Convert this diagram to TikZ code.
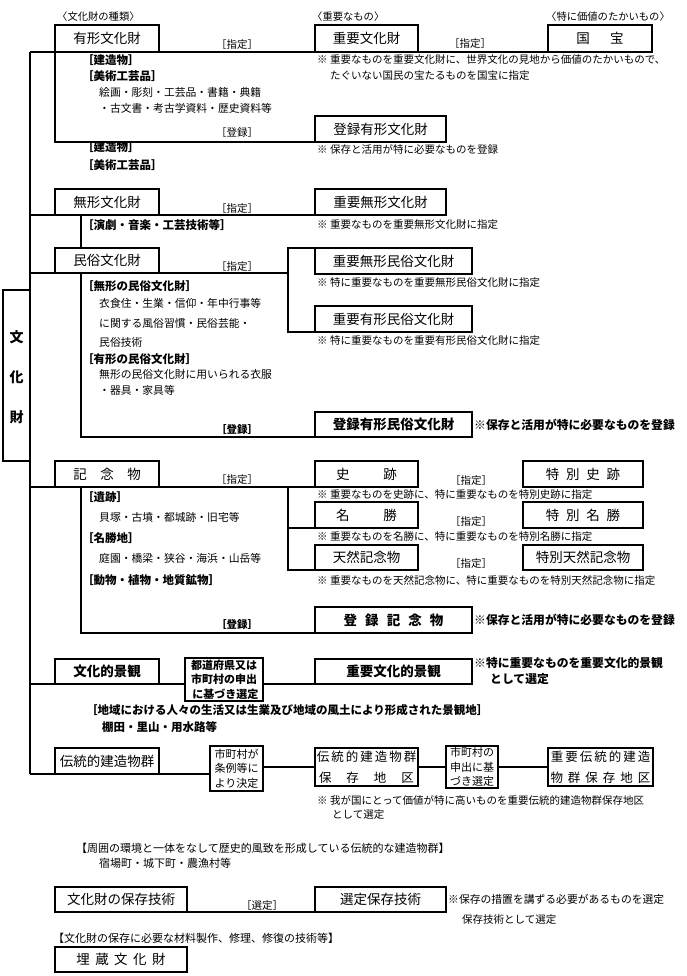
\documentclass[tikz,border=0pt]{standalone}
\usepackage{fontspec}
\setmainfont{Noto Sans CJK JP}
\tikzset{
 ln/.style={line width=1.6pt},
 box/.style={draw,line width=1.6pt,inner sep=0pt,outer sep=0pt,fill=white,align=center,font=\fontsize{13.5}{15}\selectfont},
 bbox/.style={box,font=\fontsize{13.5}{15}\selectfont\bfseries},
 sbox/.style={box,font=\fontsize{11}{14.5}\selectfont},
 txt/.style={anchor=west,inner sep=0pt,font=\fontsize{10.8}{12}\selectfont},
 btxt/.style={anchor=west,inner sep=0pt,font=\fontsize{11.5}{13}\selectfont\bfseries},
 note/.style={anchor=west,inner sep=0pt,font=\fontsize{10.5}{12}\selectfont},
 bnote/.style={anchor=west,inner sep=0pt,font=\fontsize{11.8}{13}\selectfont\bfseries},
 lab/.style={inner sep=0pt,font=\fontsize{10.5}{12}\selectfont},
 blab/.style={inner sep=0pt,font=\fontsize{10.5}{12}\selectfont\bfseries},
}
\newcommand\bx[7]{\node[#2,minimum width={(#5-#3)*1pt},minimum height={(#6-#4)*1pt}] (#1) at ({(#3+#5)/2},{(#4+#6)/2}) {#7};}
\begin{document}
\begin{tikzpicture}[x=1pt,y=-1pt]
\fill[white] (0,0) rectangle (687,976);
\useasboundingbox (0,0) rectangle (687,976);
% headers
\node[txt,font=\fontsize{10.3}{12}\selectfont] (h1) at (57,17) {〈文化財の種類〉};
\node[txt,font=\fontsize{10.3}{12}\selectfont] (h2) at (312,17) {〈重要なもの〉};
\node[txt,font=\fontsize{10.3}{12}\selectfont] (h3) at (546,17) {〈特に価値のたかいもの〉};
% left box
\bx{B0}{bbox}{3}{290}{30}{461}{}
\node[inner sep=0pt,align=center,font=\fontsize{14}{40}\selectfont\bfseries] (B0t) at ([yshift=-2pt]B0.center) {文\\化\\財};
% boxes
\bx{B1}{box}{55}{25}{159}{52}{有形文化財}
\bx{B2}{box}{315}{25}{418}{52}{重要文化財}
\bx{B3}{box}{548}{25}{652}{52}{国\hspace{1.5em}宝}
\bx{B4}{box}{315}{116}{446}{142}{登録有形文化財}
\bx{B5}{box}{55}{189}{159}{215}{無形文化財}
\bx{B6}{box}{315}{189}{446}{215}{重要無形文化財}
\bx{B7}{box}{55}{248}{159}{273}{民俗文化財}
\bx{B8}{box}{315}{248}{472}{274}{重要無形民俗文化財}
\bx{B9}{box}{315}{306}{472}{332}{重要有形民俗文化財}
\bx{B10}{bbox}{315}{412}{472}{437}{登録有形民俗文化財}
\bx{B11}{box}{55}{461}{159}{487}{記　念　物}
\bx{B12}{box}{315}{461}{418}{487}{史\hspace{2.5em}跡}
\bx{B13}{box}{523}{461}{643}{487}{特\hspace{0.5em}別\hspace{0.5em}史\hspace{0.5em}跡}
\bx{B14}{box}{315}{502}{418}{528}{名\hspace{2.5em}勝}
\bx{B15}{box}{523}{502}{643}{528}{特\hspace{0.5em}別\hspace{0.5em}名\hspace{0.5em}勝}
\bx{B16}{box}{315}{545}{418}{570}{天然記念物}
\bx{B17}{box}{523}{545}{643}{570}{特別天然記念物}
\bx{B18}{bbox}{315}{607}{472}{633}{登\hspace{0.6em}録\hspace{0.6em}記\hspace{0.6em}念\hspace{0.6em}物}
\bx{B19}{bbox}{55}{659}{159}{684}{文化的景観}
\bx{B20}{sbox}{185}{658}{263}{701}{\bfseries 都道府県又は\\\bfseries 市町村の申出\\\bfseries \ に基づき選定}
\bx{B21}{bbox}{315}{659}{472}{684}{重要文化的景観}
\bx{B22}{box}{55}{748}{159}{774}{伝統的建造物群}
\bx{B23}{sbox}{210}{746}{263}{791}{市町村が\\条例等に\\より決定}
\bx{B24}{box}{315}{748}{418}{786}{}
\node[inner sep=0pt,font=\fontsize{12.5}{14}\selectfont] (B24a) at (366.5,757) {伝\hspace{2pt}統\hspace{2pt}的\hspace{2pt}建\hspace{2pt}造\hspace{2pt}物\hspace{2pt}群};
\node[inner sep=0pt,font=\fontsize{12.5}{14}\selectfont] (B24b) at (366.5,778) {保\hspace{1.2em}存\hspace{1.2em}地\hspace{1.2em}区};
\bx{B25}{sbox}{446}{746}{498}{788}{市町村の\\申出に基\\づき選定}
\bx{B26}{box}{548}{748}{653}{786}{}
\node[inner sep=0pt,font=\fontsize{12.5}{14}\selectfont] (B26a) at (600.5,757) {重\hspace{2pt}要\hspace{2pt}伝\hspace{2pt}統\hspace{2pt}的\hspace{2pt}建\hspace{2pt}造};
\node[inner sep=0pt,font=\fontsize{12.5}{14}\selectfont] (B26b) at (600.5,778) {物\hspace{0.4em}群\hspace{0.4em}保\hspace{0.4em}存\hspace{0.4em}地\hspace{0.4em}区};
\bx{B27}{box}{55}{887}{187}{912}{文化財の保存技術}
\bx{B28}{box}{315}{887}{446}{912}{選定保存技術}
\bx{B29}{box}{55}{947}{187}{972}{埋\hspace{0.4em}蔵\hspace{0.4em}文\hspace{0.4em}化\hspace{0.4em}財}
% spine and connectors
\coordinate (s1) at (30,52);
\coordinate (s2) at (30,215);
\coordinate (s3) at (30,273);
\coordinate (s4) at (30,487);
\coordinate (s5) at (30,684);
\coordinate (s6) at (30,774);
\draw[ln] (s1) -- (s6);
\draw[ln] (s1) -- (B2.south west);
\draw[ln] (B2.south east) -- (B3.south west);
\draw[ln] (B1.south west) |- (B4.south west);
\draw[ln] (s2) -- (B6.south west);
\coordinate (m1) at (81,215);
\draw[ln] (m1) -- (m1 |- B7.north);
\coordinate (j1) at (288,273);
\draw[ln] (s3) -- (j1);
\draw[ln] (B8.north west) -| (j1) |- (B9.south west);
\coordinate (m2) at (81,273);
\draw[ln] (m2) |- (B10.south west);
\coordinate (j2) at (288,487);
\draw[ln] (s4) -- (B12.south west);
\draw[ln] (j2) |- (B16.south west);
\draw[ln] (j2 |- B14.south) -- (B14.south west);
\coordinate (m3) at (81,487);
\draw[ln] (m3) |- (B18.south west);
\draw[ln] (s5) -- (s5 -| B20.west);
\draw[ln] (B20.east |- B21.south) -- (B21.south west);
\draw[ln] (s6) -- (s6 -| B23.west);
\draw[ln] (B23.east |- B24.west) -- (B24.west);
\draw[ln] (B24.east) -- (B24.east -| B25.west);
\draw[ln] (B25.east |- B26.west) -- (B26.west);
\draw[ln] (B27.south east) -- (B28.south west);
% connector labels
\node[lab] (l1) at (237,45) {［指定］};
\node[lab] (l2) at (470,44) {［指定］};
\node[lab] (l3) at (237,133) {［登録］};
\node[lab] (l4) at (237,209) {［指定］};
\node[lab] (l5) at (237,267) {［指定］};
\node[blab] (l6) at (237,430) {［登録］};
\node[lab] (l7) at (237,480) {［指定］};
\node[lab] (l8) at (471,481) {［指定］};
\node[lab] (l9) at (471,522) {［指定］};
\node[lab] (l10) at (471,564) {［指定］};
\node[blab] (l11) at (237,625) {［登録］};
\node[lab] (l12) at (262,905) {［選定］};
% left texts
\node[btxt] (t1) at (82,60) {［建造物］};
\node[btxt] (t2) at (82,76) {［美術工芸品］};
\node[txt] (t3) at (99,92) {絵画・彫刻・工芸品・書籍・典籍};
\node[txt] (t4) at (99,108) {・古文書・考古学資料・歴史資料等};
\node[btxt] (t5) at (82,147) {［建造物］};
\node[btxt] (t6) at (82,165) {［美術工芸品］};
\node[btxt] (t7) at (82,225) {［演劇・音楽・工芸技術等］};
\node[btxt] (t8) at (82,286) {［無形の民俗文化財］};
\node[txt] (t9) at (99,303) {衣食住・生業・信仰・年中行事等};
\node[txt] (t10) at (99,323) {に関する風俗習慣・民俗芸能・};
\node[txt] (t11) at (99,342) {民俗技術};
\node[btxt] (t12) at (82,359) {［有形の民俗文化財］};
\node[txt] (t13) at (99,374) {無形の民俗文化財に用いられる衣服};
\node[txt] (t14) at (99,390) {・器具・家具等};
\node[btxt] (t15) at (82,497) {［遺跡］};
\node[txt] (t16) at (99,517) {貝塚・古墳・都城跡・旧宅等};
\node[btxt] (t17) at (82,538) {［名勝地］};
\node[txt] (t18) at (99,558) {庭園・橋梁・狭谷・海浜・山岳等};
\node[btxt] (t19) at (82,580) {［動物・植物・地質鉱物］};
\node[btxt] (t20) at (86,710) {［地域における人々の生活又は生業及び地域の風土により形成された景観地］};
\node[btxt] (t21) at (102,727) {棚田・里山・用水路等};
\node[txt,font=\fontsize{11}{12}\selectfont] (t22) at (76,848) {【周囲の環境と一体をなして歴史的風致を形成している伝統的な建造物群】};
\node[txt,font=\fontsize{11}{12}\selectfont] (t23) at (99,863) {宿場町・城下町・農漁村等};
\node[txt,font=\fontsize{11}{12}\selectfont] (t24) at (53,938) {【文化財の保存に必要な材料製作、修理、修復の技術等】};
% notes
\node[note] (n1) at (317,60) {※ 重要なものを重要文化財に、世界文化の見地から価値のたかいもので、};
\node[note] (n2) at (330,76) {たぐいない国民の宝たるものを国宝に指定};
\node[note] (n3) at (317,150) {※ 保存と活用が特に必要なものを登録};
\node[note] (n4) at (317,225) {※ 重要なものを重要無形文化財に指定};
\node[note] (n5) at (317,283) {※ 特に重要なものを重要無形民俗文化財に指定};
\node[note] (n6) at (317,341) {※ 特に重要なものを重要有形民俗文化財に指定};
\node[bnote] (n7) at (474,425) {※保存と活用が特に必要なものを登録};
\node[note] (n8) at (317,495) {※ 重要なものを史跡に、特に重要なものを特別史跡に指定};
\node[note] (n9) at (317,537) {※ 重要なものを名勝に、特に重要なものを特別名勝に指定};
\node[note] (n10) at (317,580) {※ 重要なものを天然記念物に、特に重要なものを特別天然記念物に指定};
\node[bnote] (n11) at (474,620) {※保存と活用が特に必要なものを登録};
\node[bnote] (n12) at (474,663) {※特に重要なものを重要文化的景観};
\node[bnote] (n13) at (490,679) {として選定};
\node[note] (n14) at (317,800) {※ 我が国にとって価値が特に高いものを重要伝統的建造物群保存地区};
\node[note] (n15) at (332,815) {として選定};
\node[note,font=\fontsize{10.8}{12}\selectfont] (n16) at (448,899) {※保存の措置を講ずる必要があるものを選定};
\node[note] (n17) at (462,920) {保存技術として選定};
\end{tikzpicture}
\end{document}
